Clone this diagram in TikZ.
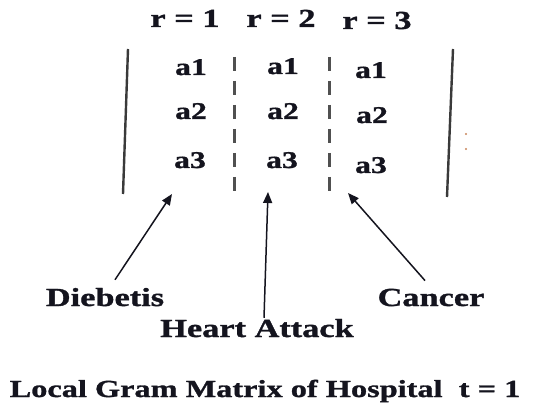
\documentclass[tikz,border=0pt]{standalone}
\usepackage{fontspec}
\setmainfont{Liberation Serif}[FakeStretch=1.32,FakeBold=1.2]
\usetikzlibrary{arrows.meta}
\definecolor{ink}{HTML}{14141E}
\definecolor{rule}{HTML}{3A3A3A}
\definecolor{dashgray}{HTML}{505050}
\definecolor{speck}{HTML}{C8845A}
\begin{document}
\begin{tikzpicture}[x=1pt,y=-1pt,
  lbl/.style={inner sep=0pt,anchor=base,font=\bfseries\fontsize{26}{30}\selectfont,text=ink},
  entry/.style={lbl,font=\bfseries\fontsize{24}{28}\selectfont},
  bar/.style={rule,line width=2.4pt},
  sep/.style={dashgray,line width=3pt,dash pattern=on 14pt off 10pt},
  arr/.style={ink,line width=1.5pt,-{Triangle[length=11pt,width=9pt]}}]
\useasboundingbox (0,0) rectangle (548,403);
% column headers
\node[lbl] (r1) at (185,27) {r = 1};
\node[lbl] (r2) at (281,27) {r = 2};
\node[lbl] (r3) at (377,29) {r = 3};
% matrix borders
\draw[bar] (128,49) -- (123,194);
\draw[bar] (453,49) -- (447,197);
% column separators
\draw[sep] (234,57) -- (234,194);
\draw[sep] (329,57) -- (329,194);
% entries
\node[entry] (a11) at (191,75) {a1};
\node[entry] (a21) at (191,119) {a2};
\node[entry] (a31) at (190,168) {a3};
\node[entry] (a12) at (283,74) {a1};
\node[entry] (a22) at (283,119) {a2};
\node[entry] (a32) at (282,168) {a3};
\node[entry] (a13) at (371,78) {a1};
\node[entry] (a23) at (372,123) {a2};
\node[entry] (a33) at (371,173) {a3};
% small specks beside the right border
\fill[speck] (466,134) circle (1.2pt);
\fill[speck] (466,149) circle (1.2pt);
% disease labels
\node[lbl] (dieb) at (105,306) {Diebetis};
\node[lbl] (canc) at (431,306) {Cancer};
\node[lbl] (heart) at (257,337) {Heart Attack};
% arrow targets
\coordinate (tD) at (172,194);
\coordinate (tH) at (268,192);
\coordinate (tC) at (348,193);
\draw[arr] ([xshift=10pt,yshift=8pt]dieb.north) -- (tD);
\draw[arr] ([xshift=7pt,yshift=1pt]heart.north) -- (tH);
\draw[arr] ([xshift=-6pt,yshift=8pt]canc.north) -- (tC);
% caption
\node[lbl,font=\bfseries\fontsize{24.5}{28}\selectfont] (cap) at (265,397) {Local Gram Matrix of Hospital\ \ t = 1};
\end{tikzpicture}
\end{document}
